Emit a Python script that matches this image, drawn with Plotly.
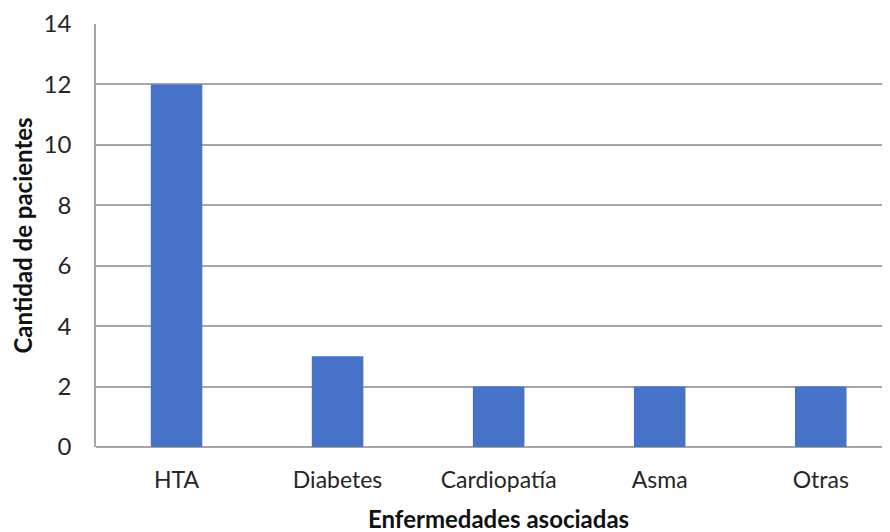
import plotly.graph_objects as go

categories = ["HTA", "Diabetes", "Cardiopatía", "Asma", "Otras"]
values = [12, 3, 2, 2, 2]
y_ticks = [0, 2, 4, 6, 8, 10, 12, 14]

FONT = "Lato, Open Sans, sans-serif"

fig = go.Figure()
fig.add_trace(go.Bar(
    x=list(range(len(categories))), y=values, width=0.32,
    marker=dict(color="#4672c8", line=dict(width=0)),
    hoverinfo="skip",
))

fig.update_layout(
    width=882, height=524,
    margin=dict(l=88, r=0, t=16, b=85),
    paper_bgcolor="white", plot_bgcolor="white",
    showlegend=False,
    font=dict(family=FONT, color="#222222"),
    xaxis=dict(
        range=[-0.5, 4.43],
        tickmode="array", tickvals=list(range(len(categories))), ticktext=categories,
        tickfont=dict(size=23, color="#262626"),
        showgrid=False, zeroline=False,
        showline=False, ticks="", ticklabelstandoff=17,
    ),
    yaxis=dict(
        range=[0, 14],
        tickmode="array", tickvals=y_ticks,
        tickfont=dict(size=24, color="#262626"),
        showgrid=True, gridcolor="#a6a6a6", gridwidth=1.5,
        zeroline=True, zerolinecolor="#a6a6a6", zerolinewidth=1.5,
        showline=True, linecolor="#a6a6a6", linewidth=1.5,
        ticks="", ticklabelstandoff=18,
        title=dict(text="<b>Cantidad de pacientes</b>", font=dict(size=24, color="#111111"), standoff=12),
    ),
    annotations=[dict(
        x=2, xref="x", y=-0.168, yref="paper",
        text="<b>Enfermedades asociadas</b>", showarrow=False,
        font=dict(size=24, color="#111111"), xanchor="center", yanchor="middle",
    )],
)

fig.write_html("out.html")
